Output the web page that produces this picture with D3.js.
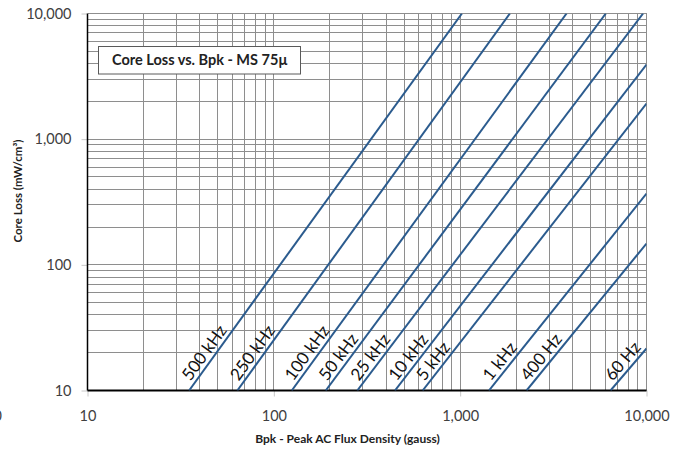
<!DOCTYPE html>
<html>
<head>
<meta charset="utf-8">
<script src="https://cdn.jsdelivr.net/npm/d3@7"></script>
<style>
  html, body { margin: 0; padding: 0; background: #fff; }
  svg { display: block; font-family: Lato, "Open Sans", sans-serif; }
</style>
</head>
<body>
<svg id="chart" width="684" height="453"></svg>
<script>
// ---- data ----
const freqLabels = ["500 kHz", "250 kHz", "100 kHz", "50 kHz", "25 kHz", "10 kHz", "5 kHz", "1 kHz", "400 Hz", "60 Hz"];
// start point (flux density in gauss where loss = 10 mW/cm³)
const bStart    = [35.1, 63.7, 124.8, 189.9, 280.5, 446.7, 629, 1427, 2272, 6412];
const lossStart = [10, 10, 10, 10, 10, 10, 10, 10, 10, 10];
// end point (where the line leaves the plot)
const bEnd      = [1022, 1849, 3723, 6049, 9588, 10000, 10000, 10000, 10000, 10000];
const lossEnd   = [10000, 10000, 10000, 10000, 10000, 3926, 1922, 369.5, 147.8, 21.6];
const xTickValues = [10, 100, 1000, 10000];
const yTickValues = [10, 100, 1000, 10000];
const chartTitle = "Core Loss vs. Bpk - MS 75µ";
const xTitle = "Bpk - Peak AC Flux Density (gauss)";
const yTitle = "Core Loss (mW/cm³)";

// ---- layout ----
const W = 684, H = 453;
const m = { left: 87.5, right: 37.5, top: 13.5, bottom: 62.5 };
const svg = d3.select("#chart");

const x = d3.scaleLog().domain([10, 10000]).range([m.left, W - m.right]);
const y = d3.scaleLog().domain([10, 10000]).range([H - m.bottom, m.top]);

const gridColor = "#8e8e8e";
const fmt = d3.format(",");

// minor + major grid
const grid = svg.append("g").attr("shape-rendering", "crispEdges");
const xGridVals = x.ticks(10).filter(v => v > 10);
const yGridVals = y.ticks(10).filter(v => v > 10);
grid.selectAll("line.vx").data(xGridVals).join("line")
  .attr("x1", d => x(d)).attr("x2", d => x(d))
  .attr("y1", y(10)).attr("y2", y(10000))
  .attr("stroke", gridColor).attr("stroke-width", 1);
grid.selectAll("line.hy").data(yGridVals).join("line")
  .attr("y1", d => y(d)).attr("y2", d => y(d))
  .attr("x1", x(10)).attr("x2", x(10000))
  .attr("stroke", gridColor).attr("stroke-width", 1);

// axes
const xAxis = d3.axisBottom(x).tickValues(xTickValues).tickFormat(fmt).tickSize(6).tickPadding(14);
const yAxis = d3.axisLeft(y).tickValues(yTickValues).tickFormat(fmt).tickSize(6).tickPadding(10);

const gx = svg.append("g").attr("transform", `translate(0,${y(10)})`).call(xAxis);
const gy = svg.append("g").attr("transform", `translate(${x(10)},0)`).call(yAxis);
[gx, gy].forEach(g => {
  g.select(".domain").remove();
  g.selectAll(".tick line").attr("stroke", "#c8c8c8");
  g.selectAll(".tick text").attr("fill", "#404040").attr("font-size", 14.5)
    .attr("font-family", "Lato, sans-serif");
});

// axis lines (left + bottom black)
svg.append("line").attr("x1", x(10)).attr("x2", x(10)).attr("y1", y(10000)).attr("y2", y(10))
  .attr("stroke", "#000").attr("stroke-width", 1.5);
svg.append("line").attr("x1", x(10)).attr("x2", x(10000)).attr("y1", y(10)).attr("y2", y(10))
  .attr("stroke", "#000").attr("stroke-width", 1.8);

// series lines
svg.append("clipPath").attr("id", "plotclip").append("rect")
  .attr("x", x(10)).attr("y", y(10000)).attr("width", x(10000) - x(10)).attr("height", y(10) - y(10000));

const series = freqLabels.map((f, i) => ({
  label: f,
  pts: [[bStart[i], lossStart[i]], [bEnd[i], lossEnd[i]]]
}));
const line = d3.line().x(d => x(d[0])).y(d => y(d[1]));

svg.append("g").attr("clip-path", "url(#plotclip)")
  .selectAll("path").data(series).join("path")
  .attr("d", d => line(d.pts))
  .attr("fill", "none").attr("stroke", "#2b5b8e").attr("stroke-width", 2);

// line labels
svg.append("g").selectAll("text").data(series).join("text")
  .attr("transform", d => {
    const x0 = x(d.pts[0][0]), y0 = y(d.pts[0][1]);
    const x1 = x(d.pts[1][0]), y1 = y(d.pts[1][1]);
    const ang = Math.atan2(y0 - y1, x1 - x0) * 180 / Math.PI;
    return `translate(${x0},${y0}) rotate(${-ang})`;
  })
  .attr("x", 8).attr("y", -4)
  .attr("font-size", 17).attr("fill", "#111")
  .text(d => d.label);

// title box
const tb = svg.append("g");
tb.append("rect").attr("x", 98.5).attr("y", 46.5).attr("width", 202).attr("height", 27.5)
  .attr("fill", "#fff").attr("stroke", "#5a5a5a").attr("stroke-width", 1);
tb.append("text").attr("x", 200).attr("y", 65).attr("text-anchor", "middle")
  .attr("font-weight", "bold").attr("font-size", 14.5).attr("fill", "#222")
  .text(chartTitle);

// axis titles
svg.append("text").attr("x", 347.5).attr("y", 443).attr("text-anchor", "middle")
  .attr("font-weight", "bold").attr("font-size", 12).attr("fill", "#222")
  .text(xTitle);
svg.append("text").attr("transform", `translate(22,191) rotate(-90)`).attr("text-anchor", "middle")
  .attr("font-weight", "bold").attr("font-size", 11.5).attr("fill", "#222")
  .text(yTitle);

// clipped stray label at far left edge (as in the reference)
svg.append("text").attr("x", 2).attr("y", 421).attr("text-anchor", "end")
  .attr("font-size", 14.5).attr("fill", "#404040").text("10");
</script>
</body>
</html>
